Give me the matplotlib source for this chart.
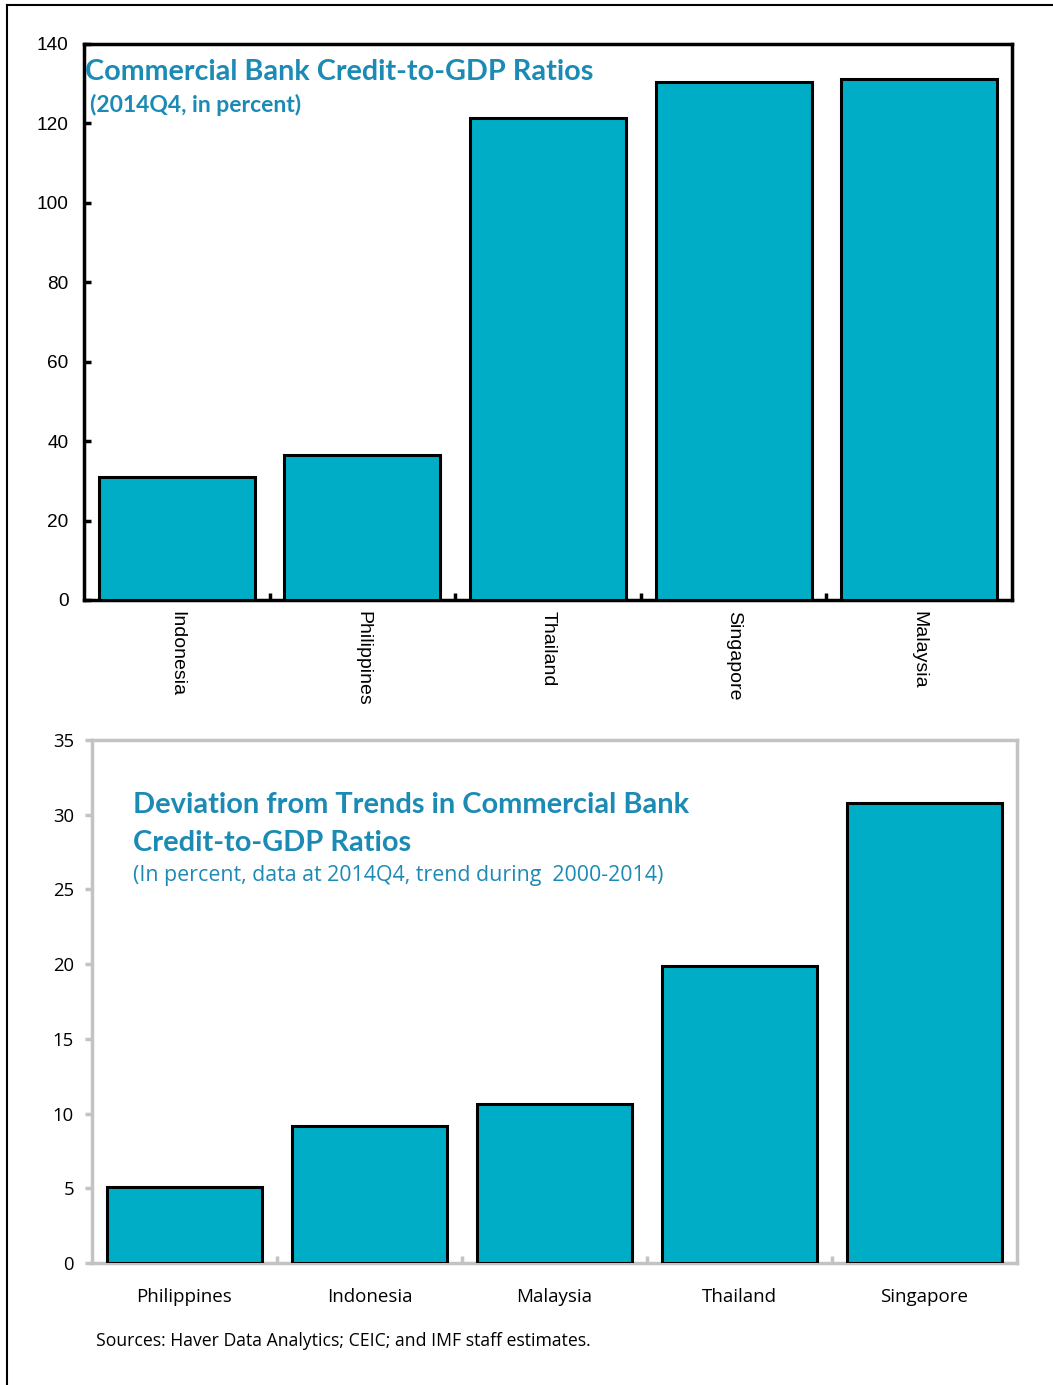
import matplotlib.pyplot as plt
from matplotlib.ticker import FixedLocator
import numpy as np

# top panel data
top_countries = ["Indonesia", "Philippines", "Thailand", "Singapore", "Malaysia"]
top_values = [31.0, 36.5, 121.4, 130.4, 131.2]

# bottom panel data
bot_countries = ["Philippines", "Indonesia", "Malaysia", "Thailand", "Singapore"]
bot_values = [5.1, 9.2, 10.65, 19.9, 30.8]

bar_color = "#00adc6"
title_color = "#1b8ab5"
gray = "#c3c3c3"

fig = plt.figure(figsize=(10.53, 13.85), dpi=100)

# outer frame (only top and left visible in the source)
fig.add_artist(plt.Line2D([7 / 1053, 7 / 1053], [0, 1 - 5 / 1385], transform=fig.transFigure,
                          color="black", lw=1.5))
fig.add_artist(plt.Line2D([7 / 1053, 1], [1 - 5 / 1385, 1 - 5 / 1385], transform=fig.transFigure,
                          color="black", lw=1.5))

# ---- top chart ----
ax1 = fig.add_axes([84 / 1053, 1 - 600 / 1385, 928 / 1053, 556 / 1385])
x1 = np.arange(len(top_countries))
ax1.bar(x1, top_values, width=0.84, color=bar_color, edgecolor="black", linewidth=2.2, zorder=3)
ax1.set_xlim(-0.5, len(top_countries) - 0.5)
ax1.set_ylim(0, 140)
ax1.set_yticks(np.arange(0, 141, 20))
ax1.set_xticks(x1)
ax1.set_xticklabels(top_countries, rotation=270, fontsize=14, family="Liberation Sans")
ax1.xaxis.set_minor_locator(FixedLocator(np.arange(0.5, len(top_countries) - 1, 1)))
ax1.tick_params(axis="x", which="major", length=0, pad=8)
ax1.tick_params(axis="x", which="minor", direction="in", length=5, width=2.5, color="black")
ax1.tick_params(axis="y", direction="in", length=5, width=2.5, pad=11, labelsize=13.7)
for lab in ax1.get_yticklabels():
    lab.set_family("Liberation Sans")
for sp in ax1.spines.values():
    sp.set_linewidth(2.5)
    sp.set_color("black")

ax1.text(0.001, 0.950, "Commercial Bank Credit-to-GDP Ratios", transform=ax1.transAxes,
         fontsize=20.7, fontweight="bold", color=title_color, family="Lato", va="center", ha="left")
ax1.text(0.007, 0.890, "(2014Q4, in percent)", transform=ax1.transAxes,
         fontsize=16.5, fontweight="bold", color=title_color, family="Lato", va="center", ha="left")

# ---- bottom chart ----
ax2 = fig.add_axes([92 / 1053, 1 - 1263 / 1385, 925 / 1053, 523 / 1385])
x2 = np.arange(len(bot_countries))
ax2.bar(x2, bot_values, width=0.84, color=bar_color, edgecolor="black", linewidth=2.2, zorder=3)
ax2.set_xlim(-0.5, len(bot_countries) - 0.5)
ax2.set_ylim(0, 35)
ax2.set_yticks(np.arange(0, 36, 5))
ax2.set_xticks(x2)
ax2.set_xticklabels(bot_countries, fontsize=13.5, family="Open Sans")
ax2.xaxis.set_minor_locator(FixedLocator(np.arange(0.5, len(bot_countries) - 1, 1)))
ax2.tick_params(axis="x", which="major", length=0, pad=18)
ax2.tick_params(axis="x", which="minor", direction="in", length=5, width=2.5, color=gray)
ax2.tick_params(axis="y", direction="out", length=5, width=2.5, color=gray, pad=8, labelsize=13.3)
for lab in ax2.get_yticklabels():
    lab.set_family("Open Sans")
for sp in ax2.spines.values():
    sp.set_linewidth(2.5)
    sp.set_color(gray)

ax2.text(0.044, 0.875, "Deviation from Trends in Commercial Bank", transform=ax2.transAxes,
         fontsize=20.9, fontweight="bold", color=title_color, family="Lato", va="center", ha="left")
ax2.text(0.044, 0.803, "Credit-to-GDP Ratios", transform=ax2.transAxes,
         fontsize=20.9, fontweight="bold", color=title_color, family="Lato", va="center", ha="left")
ax2.text(0.044, 0.740, "(In percent, data at 2014Q4, trend during  2000-2014)", transform=ax2.transAxes,
         fontsize=15.4, color=title_color, family="Open Sans", va="center", ha="left")

fig.text(96 / 1053, 1 - 1341 / 1385, "Sources: Haver Data Analytics; CEIC; and IMF staff estimates.",
         fontsize=12.7, family="Open Sans", va="center", ha="left")

fig.savefig("out.png", dpi=100)
